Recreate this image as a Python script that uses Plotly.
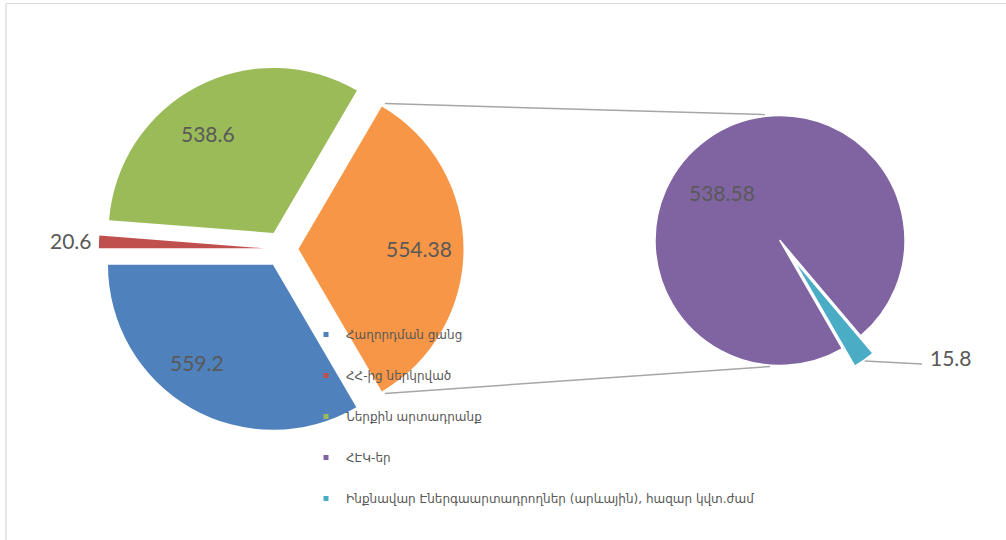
import math
import plotly.graph_objects as go

W, H = 1006, 540
OFF = 0  # body margin removed via post_script, so figure pixels = window pixels

# ---- data ----
main_labels = ["Հաղորդման ցանց", "ՀՀ-ից ներկրված", "Ներքին արտադրանք", "Other"]
main_values = [559.2, 20.6, 538.6, 554.38]
main_colors = ["#4F81BD", "#C0504D", "#9BBB59", "#F79646"]

sub_labels = ["ՀԷԿ-եր", "Ինքնավար Էներգաարտադրողներ (արևային), հազար կվտ.ժամ"]
sub_values = [538.58, 15.8]
sub_colors = ["#8064A2", "#4BACC6"]

legend_labels = main_labels[:3] + sub_labels
legend_colors = main_colors[:3] + sub_colors

# ---- geometry (pixels, in window coordinates) ----
L_CX, L_CY, L_R = 282.0, 249.0, 165.0
L_PULL = [0.11, 0.11, 0.11, 0.10]
L_ROT = 149.65
R_CX, R_CY, R_R = 780.0, 240.5, 125.0
R_PULL = [0.0, 0.17]
R_ROT = 150.0

TEXT_COLOR = "#595959"
NUM_FONT = dict(family="Lato, 'Open Sans', sans-serif", size=21, color=TEXT_COLOR)


def px(x):
    return (x - OFF) / W


def py(y):
    return 1 - (y - OFF) / H


def domain(cx, cy, r, maxpull):
    half = r * (1 + maxpull)
    cx -= OFF
    cy -= OFF
    return dict(x=[(cx - half) / W, (cx + half) / W],
                y=[(H - cy - half) / H, (H - cy + half) / H])


def slice_angles(values, rot):
    tot = sum(values)
    out = []
    a = rot
    for v in values:
        span = v / tot * 360.0
        out.append((a, a + span))
        a += span
    return out


def polar(cx, cy, r, clock_deg):
    a = math.radians(clock_deg)
    return cx + r * math.sin(a), cy - r * math.cos(a)


fig = go.Figure()

fig.add_trace(go.Pie(
    labels=main_labels, values=main_values, sort=False, direction="clockwise",
    rotation=L_ROT, pull=L_PULL, marker=dict(colors=main_colors, line=dict(color="white", width=0)),
    textinfo="none", hoverinfo="label+value", showlegend=False,
    domain=domain(L_CX, L_CY, L_R, max(L_PULL)),
))
fig.add_trace(go.Pie(
    labels=sub_labels, values=sub_values, sort=False, direction="clockwise",
    rotation=R_ROT, pull=R_PULL, marker=dict(colors=sub_colors, line=dict(color="white", width=1.5)),
    textinfo="none", hoverinfo="label+value", showlegend=False,
    domain=domain(R_CX, R_CY, R_R, max(R_PULL)),
))

# legend entries (small square markers like the original)
for lab, col in zip(legend_labels, legend_colors):
    fig.add_trace(go.Scatter(x=[None], y=[None], mode="markers", name=lab, legendgroup=lab,
                             marker=dict(symbol="square", size=5, color=col)))

annotations = []
shapes = []

# main pie labels
main_ang = slice_angles(main_values, L_ROT)
label_cfg = [(0.75, 8), (1.17, 0), (0.72, -6), (0.73, 0)]
for i, (v, (a0, a1)) in enumerate(zip(main_values, main_ang)):
    mid = (a0 + a1) / 2
    scx, scy = polar(L_CX, L_CY, L_PULL[i] * L_R, mid)
    frac, tweak = label_cfg[i]
    x, y = polar(scx, scy, frac * L_R, mid + tweak)
    annotations.append(dict(x=px(x), y=py(y), xref="paper", yref="paper", text=f"{v:g}",
                            showarrow=False, font=NUM_FONT, xanchor="center", yanchor="middle"))

# sub pie labels
sub_ang = slice_angles(sub_values, R_ROT)
mid0 = sum(sub_ang[0]) / 2
x, y = polar(R_CX, R_CY, 0.6 * R_R, mid0 - 15.5)
annotations.append(dict(x=px(x), y=py(y), xref="paper", yref="paper", text=f"{sub_values[0]:g}",
                        showarrow=False, font=NUM_FONT, xanchor="center", yanchor="middle"))
mid1 = sum(sub_ang[1]) / 2
tx, ty = polar(R_CX, R_CY, R_R * (1 + R_PULL[1]) + 1, mid1)
lx_end = 922.0
shapes.append(dict(type="line", xref="paper", yref="paper", x0=px(tx), y0=py(ty),
                   x1=px(lx_end), y1=py(ty + 3), line=dict(color="#A6A6A6", width=1.5)))
annotations.append(dict(x=px(lx_end + 6), y=py(ty - 3), xref="paper", yref="paper",
                        text=f"{sub_values[1]:g}", showarrow=False, font=NUM_FONT,
                        xanchor="left", yanchor="middle"))

# connector lines between the "Other" slice and the secondary pie
oa0, oa1 = main_ang[3]
ocx, ocy = polar(L_CX, L_CY, L_PULL[3] * L_R, (oa0 + oa1) / 2)
top_x, top_y = polar(ocx, ocy, L_R, oa0)
bot_x, bot_y = polar(ocx, ocy, L_R, oa1)
shapes.append(dict(type="line", xref="paper", yref="paper", x0=px(top_x + 3), y0=py(top_y - 3),
                   x1=px(R_CX - 15), y1=py(R_CY - R_R - 1), line=dict(color="#A6A6A6", width=1.5)))
shapes.append(dict(type="line", xref="paper", yref="paper", x0=px(bot_x + 3), y0=py(bot_y + 2),
                   x1=px(R_CX - 10), y1=py(R_CY + R_R + 1), line=dict(color="#A6A6A6", width=1.5)))

# chart border (top and left visible)
shapes.append(dict(type="line", xref="paper", yref="paper", x0=px(6), y0=py(3.5), x1=1, y1=py(3.5),
                   line=dict(color="#D9D9D9", width=1.2)))
shapes.append(dict(type="line", xref="paper", yref="paper", x0=px(6), y0=py(3.5), x1=px(6), y1=0,
                   line=dict(color="#D9D9D9", width=1.2)))

fig.update_layout(
    width=W, height=H, margin=dict(l=0, r=0, t=0, b=0),
    paper_bgcolor="white", plot_bgcolor="white",
    xaxis=dict(visible=False), yaxis=dict(visible=False),
    showlegend=True,
    legend=dict(x=px(306), y=py(320), xanchor="left", yanchor="top",
                bgcolor="rgba(0,0,0,0)", borderwidth=0, tracegroupgap=22,
                font=dict(family="'DejaVu Sans', sans-serif", size=12, color=TEXT_COLOR)),
    annotations=annotations, shapes=shapes,
)

fig.write_html("out.html", config={"displayModeBar": False},
               post_script="document.body.style.margin='0';")
